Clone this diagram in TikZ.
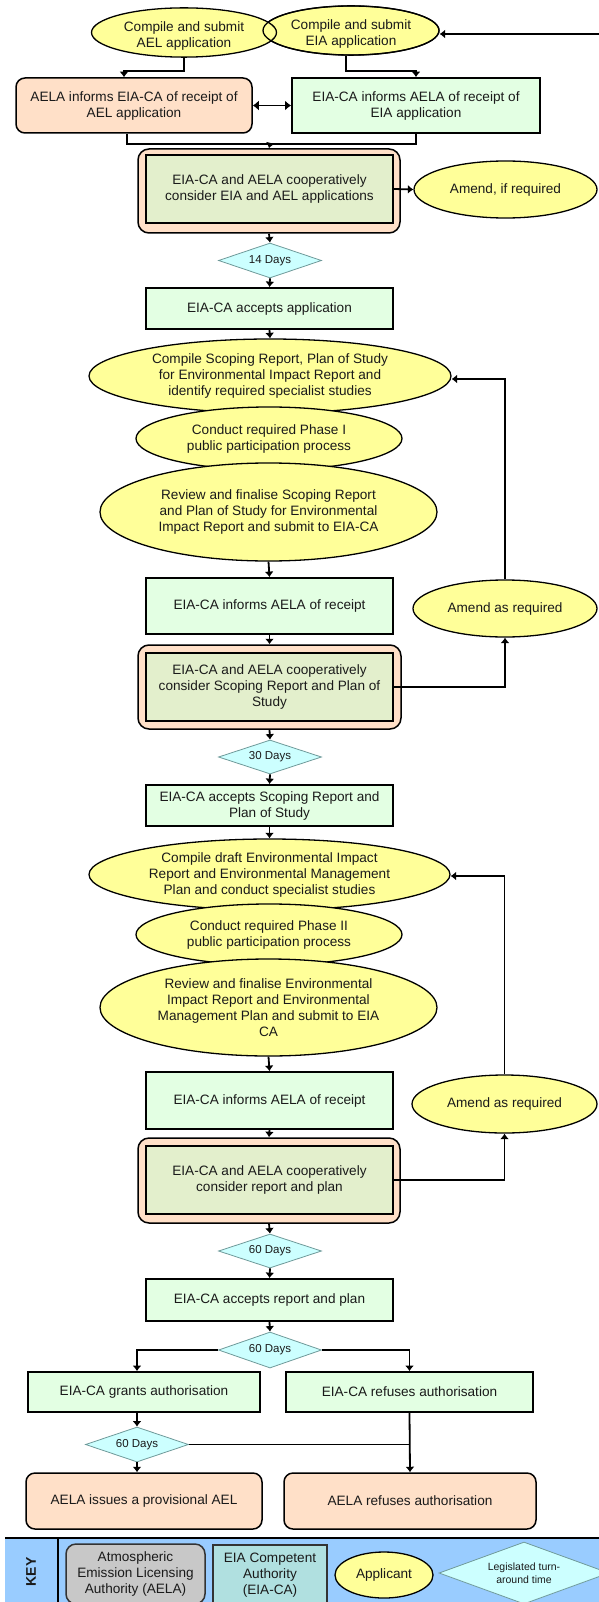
\documentclass[tikz,border=0pt]{standalone}
\usepackage{fontspec}
\setmainfont{Liberation Sans}
\usetikzlibrary{shapes.geometric,arrows.meta,calc}

\definecolor{appyellow}{HTML}{FFFF99}
\definecolor{eiagreen}{HTML}{E3FFE3}
\definecolor{aelapeach}{HTML}{FFE0C8}
\definecolor{jointgreen}{HTML}{E3EFCC}
\definecolor{dayscyan}{HTML}{CCFFFF}
\definecolor{daysedge}{HTML}{6F9A9A}
\definecolor{keyblue}{HTML}{99CCFF}
\definecolor{keygray}{HTML}{C8C8C8}
\definecolor{keyteal}{HTML}{B0E0E0}
\definecolor{inktext}{HTML}{1A1A1A}

\begin{document}
\begin{tikzpicture}[x=1pt,y=-1pt,
  font=\fontsize{13.6}{16}\selectfont, text=inktext,
  sz/.style 2 args={minimum width=#1, minimum height=#2},
  app/.style={ellipse, draw=black, line width=1.3pt, fill=appyellow, inner sep=0pt, align=center},
  eiabox/.style={rectangle, draw=black, line width=1.8pt, fill=eiagreen, inner sep=0pt, align=center},
  aelabox/.style={rectangle, rounded corners=9pt, draw=black, line width=1.5pt, fill=aelapeach, inner sep=0pt, align=center},
  jointouter/.style={rectangle, rounded corners=11pt, draw=black, line width=1.5pt, fill=aelapeach, inner sep=0pt},
  jointbox/.style={rectangle, draw=black, line width=1.8pt, fill=jointgreen, inner sep=0pt, align=center},
  days/.style={diamond, shape aspect=3, draw=daysedge, line width=0.8pt, fill=dayscyan, inner sep=0pt, align=center, font=\fontsize{11.5}{13}\selectfont},
  link/.style={line width=1.8pt},
  flow/.style={line width=1.8pt, -{Latex[length=5.5pt,width=9pt]}},
  both/.style={line width=1.8pt, {Latex[length=6pt,width=10pt]}-{Latex[length=6pt,width=10pt]}}
]
\useasboundingbox (0,0) rectangle (598,1602);
\fill[white] (0,0) rectangle (598,1602);

% --- application stage ---
\node[app, sz={176}{49}] (eia) at (351,30.5) {\rule{0pt}{16pt}Compile and submit\\EIA application};
\node[app, sz={185}{49}] (ael) at (184,32.5) {\rule{0pt}{16pt}Compile and submit\\AEL application};
\draw[line width=1.3pt] (eia.center) ellipse [x radius=88, y radius=24.5];

\node[aelabox, sz={236}{55}] (aelainf) at (134,105.5) {AELA informs EIA-CA of receipt of\\AEL application};
\node[eiabox, sz={248}{55}] (eiainf) at (416,105.5) {EIA-CA informs AELA of receipt of\\EIA application};

\node[jointouter, sz={262}{84}] (outer1) at (269,191) {};
\node[jointbox, sz={247}{68}] (inner1) at (269.5,189) {EIA-CA and AELA cooperatively\\consider EIA and AEL applications};
\node[app, sz={183}{57}] (amend1) at (505.5,189.5) {Amend, if required};

\node[days, sz={103}{35}] (d14) at (270,260.5) {14 Days};
\node[eiabox, sz={247}{41}] (accept1) at (269.5,308.5) {EIA-CA accepts application};

% --- scoping stage ---
\node[app, sz={362}{74}] (scope) at (270,376) {Compile Scoping Report, Plan of Study\\for Environmental Impact Report and\\identify required specialist studies};
\node[app, sz={266}{63}] (phase1) at (269,438.5) {Conduct required Phase I\\public participation process};
\node[app, sz={337}{98}] (review1) at (268.5,512) {Review and finalise Scoping Report\\and Plan of Study for Environmental\\Impact Report and submit to EIA-CA};

\node[eiabox, sz={247}{56}] (inform1) at (269.5,606) {EIA-CA informs AELA of receipt};
\node[app, sz={184}{57}] (amend2) at (505,608.5) {Amend as required};

\node[jointouter, sz={263}{84}] (outer2) at (269.5,687) {};
\node[jointbox, sz={247}{68}] (inner2) at (269.5,687) {EIA-CA and AELA cooperatively\\consider Scoping Report and Plan of\\Study};

\node[days, sz={103}{34}] (d30) at (270,757) {30 Days};
\node[eiabox, sz={247}{41}] (accept2) at (269.5,805.5) {EIA-CA accepts Scoping Report and\\Plan of Study};

% --- impact report stage ---
\node[app, sz={361}{71}] (draft) at (269.5,874.5) {Compile draft Environmental Impact\\Report and Environmental Management\\Plan and conduct specialist studies};
\node[app, sz={266}{61}] (phase2) at (269,934.5) {Conduct required Phase II\\public participation process};
\node[app, sz={337}{97}] (review2) at (268.5,1007.5) {Review and finalise Environmental\\Impact Report and Environmental\\Management Plan and submit to EIA\\CA};

\node[eiabox, sz={247}{57}] (inform2) at (269.5,1100.5) {EIA-CA informs AELA of receipt};
\node[app, sz={185}{58}] (amend3) at (504.5,1104) {Amend as required};

\node[jointouter, sz={262}{85}] (outer3) at (269,1180.5) {};
\node[jointbox, sz={247}{68}] (inner3) at (269.5,1180) {EIA-CA and AELA cooperatively\\consider report and plan};

\node[days, sz={103}{34}] (d60a) at (270,1251) {60 Days};
\node[eiabox, sz={247}{42}] (accept3) at (269.5,1300) {EIA-CA accepts report and plan};

% --- decision stage ---
\node[days, sz={103}{36}] (d60b) at (270,1350) {60 Days};
\node[eiabox, sz={232}{40}] (grant) at (144,1392) {EIA-CA grants authorisation};
\node[eiabox, sz={247}{40}] (refuse) at (409.5,1392) {EIA-CA refuses authorisation};
\node[days, sz={103}{35}] (d60c) at (137,1444.5) {60 Days};
\node[aelabox, sz={236}{56}] (issue) at (144,1501) {AELA issues a provisional AEL};
\node[aelabox, sz={252}{56}] (aelaref) at (410,1501) {AELA refuses authorisation};

% --- connectors ---
\coordinate (ret0) at (600,34);
\draw[flow] (ret0) -- (ret0 -| eia.east);
\draw[flow] (ael.south) -- ++(0,13) -| ([xshift=-10pt]aelainf.north);
\draw[flow] ([xshift=-5pt]eia.south) -- ++(0,15) -| (eiainf.north);
\draw[both] (aelainf.east) -- (eiainf.west);
\coordinate (join1) at (270,144);
\draw[link] ([xshift=-7pt]aelainf.south) |- (join1) -| (eiainf.south);
\draw[flow] (join1) -- (outer1.north);
\draw[flow] (inner1.east) -- (amend1.west);
\draw[flow] (outer1.south) -- (d14.north);
\draw[flow] (d14.south) -- (accept1.north);
\draw[flow] (accept1.south) -- (scope.north);

\draw[flow] (review1.south) -- (inform1.north);
\draw[flow] (inform1.south) -- (outer2.north);
\draw[flow] (inner2.east) -| (amend2.south);
\draw[flow] (amend2.north) |- ([yshift=-3pt]scope.east);
\draw[flow] (outer2.south) -- (d30.north);
\draw[flow] (d30.south) -- (accept2.north);
\draw[flow] (accept2.south) -- (draft.north);

\draw[flow] (review2.south) -- (inform2.north);
\draw[flow] (inform2.south) -- (outer3.north);
\draw[flow] (inner3.east) -| (amend3.south);
\draw[flow] (amend3.north) |- ([yshift=-1.5pt]draft.east);
\draw[flow] (outer3.south) -- (d60a.north);
\draw[flow] (d60a.south) -- (accept3.north);
\draw[flow] (accept3.south) -- (d60b.north);

\draw[flow] (d60b.west) -| ([xshift=-7pt]grant.north);
\draw[flow] (d60b.east) -| (refuse.north);
\draw[flow] ([xshift=-7pt]grant.south) -- (d60c.north);
\draw[flow] (d60c.south) -- (d60c.south |- issue.north);
\draw[flow] (refuse.south) -- (aelaref.north);
\draw[link] (d60c.east) -- (d60c.east -| refuse.south);

% --- key ---
\fill[keyblue] (5,1538) rectangle (610,1612);
\draw[line width=1.5pt] (5,1538) -- (610,1538);
\draw[line width=1.8pt] (58,1538) -- (58,1612);
\node[rotate=90, font=\fontsize{14}{16}\selectfont\bfseries] (keylabel) at (31,1572) {KEY};
\node[rectangle, rounded corners=10pt, draw=black!80, line width=1.5pt, fill=keygray, inner sep=0pt, align=center, sz={139}{60}] (keyaela) at (135.5,1574) {Atmospheric\\Emission Licensing\\Authority (AELA)};
\node[rectangle, draw=black!80, line width=1.8pt, fill=keyteal, inner sep=0pt, align=center, sz={114}{60}] (keyeia) at (270,1575) {EIA Competent\\Authority\\(EIA-CA)};
\node[app, sz={98}{46}] (keyapp) at (384,1575) {Applicant};
\node[days, sz={170}{62}, font=\fontsize{10.5}{13}\selectfont] (keydays) at (524,1573) {Legislated turn-\\around time};
\end{tikzpicture}
\end{document}
